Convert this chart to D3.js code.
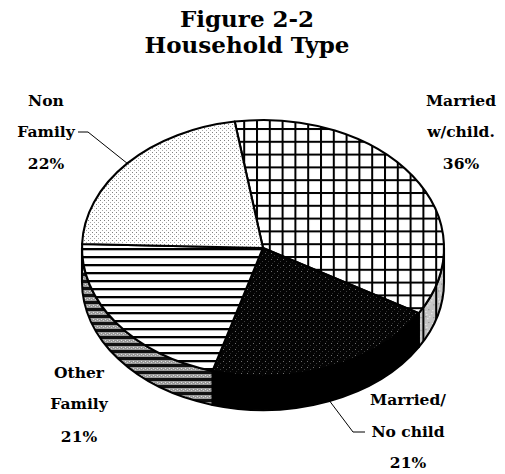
<!DOCTYPE html>
<html>
<head>
<meta charset="utf-8">
<script src="https://cdn.jsdelivr.net/npm/d3@7"></script>
<style>
  html, body { margin: 0; padding: 0; background: #fff; }
  svg { display: block; }
  text { font-family: "DejaVu Serif", "Liberation Serif", serif; font-weight: bold; fill: #000; }
</style>
</head>
<body>
<svg id="chart" width="505" height="474"></svg>
<script>
// Household type shares (percent), in drawing order clockwise from the top
const categories = ["Married w/child.", "Married/ No child", "Other Family", "Non Family"];
const shares = [36, 21, 21, 22];
// Label text lines for each slice (the percentage is appended from shares)
const labelNames = [["Married", "w/child."], ["Married/", "No child"], ["Other", "Family"], ["Non", "Family"]];
const titleLines = ["Figure 2-2", "Household Type"];

const svg = d3.select("#chart");
const defs = svg.append("defs");

// ---- fill patterns ----
function pattern(id, w, h, build) {
  const p = defs.append("pattern").attr("id", id)
    .attr("patternUnits", "userSpaceOnUse").attr("width", w).attr("height", h);
  build(p);
}
const px = (p, x, y, c, w = 1, h = 1) =>
  p.append("rect").attr("x", x).attr("y", y).attr("width", w).attr("height", h).attr("fill", c);

// square grid
pattern("grid", 12.8, 12.8, p => {
  px(p, 0, 0, "#fff", 12.8, 12.8);
  px(p, 0, 0, "#000", 12.8, 2);
  px(p, 0, 0, "#000", 2, 12.8);
});
// grid over grey stipple (side wall)
pattern("gridSide", 12.8, 12.8, p => {
  px(p, 0, 0, "#c4c4c4", 12.8, 12.8);
  [[3,4],[7,9],[10,3],[5,11],[9,6],[4,7]].forEach(([x, y]) => px(p, x, y, "#fff"));
  [[6,2],[11,10],[3,9]].forEach(([x, y]) => px(p, x, y, "#777"));
  px(p, 0, 0, "#000", 2, 12.8);
});
// dense dark stipple
pattern("dark", 6, 6, p => {
  px(p, 0, 0, "#040404", 6, 6);
  px(p, 1, 1, "#6e6e6e");
  px(p, 4, 3, "#3c3c3c");
  px(p, 2, 5, "#2a2a2a");
});
// horizontal stripes
pattern("hlines", 8, 8, p => {
  px(p, 0, 0, "#fff", 8, 8);
  px(p, 0, 0, "#000", 8, 2.3);
});
// horizontal stripes over grey stipple (side wall)
pattern("hlinesSide", 4, 7, p => {
  px(p, 0, 0, "#9a9a9a", 4, 7);
  px(p, 1, 4, "#e0e0e0");
  px(p, 3, 5, "#d0d0d0");
  px(p, 0, 0, "#111", 4, 3);
});
// light stipple
pattern("light", 4, 4, p => {
  px(p, 0, 0, "#fff", 4, 4);
  px(p, 0, 0, "#808080");
  px(p, 2, 2, "#aaaaaa");
});

const topFill = ["url(#grid)", "url(#dark)", "url(#hlines)", "url(#light)"];
const sideFill = ["url(#gridSide)", "#000", "url(#hlinesSide)", "#bbb"];

// ---- tilted pie geometry ----
const cx = 263, cy = 248, rx = 181, ry = 128, depth = 34;
const rad = d => d * Math.PI / 180;
const arcs = d3.pie().sort(null)
  .startAngle(rad(-9)).endAngle(rad(351))(shares);

// point on the ellipse rim, angle clockwise from 12 o'clock
const pt = (a, dy = 0) => [cx + rx * Math.sin(a), cy - ry * Math.cos(a) + dy];

function topPath(d) {
  const s = pt(d.startAngle), e = pt(d.endAngle);
  const large = d.endAngle - d.startAngle > Math.PI ? 1 : 0;
  return `M${cx},${cy}L${s[0]},${s[1]}A${rx},${ry} 0 ${large} 1 ${e[0]},${e[1]}Z`;
}
function sidePath(a, b) {
  const s = pt(a), e = pt(b), s2 = pt(a, depth), e2 = pt(b, depth);
  return `M${s[0]},${s[1]}A${rx},${ry} 0 0 1 ${e[0]},${e[1]}` +
         `L${e2[0]},${e2[1]}A${rx},${ry} 0 0 0 ${s2[0]},${s2[1]}Z`;
}

const pie = svg.append("g");
// side walls: only the front half (90°..270°) is visible
arcs.forEach((d, i) => {
  const a = Math.max(d.startAngle, Math.PI / 2), b = Math.min(d.endAngle, 3 * Math.PI / 2);
  if (b > a) {
    pie.append("path").attr("d", sidePath(a, b))
      .attr("fill", sideFill[i]).attr("stroke", "#000")
      .attr("stroke-width", 2.1).attr("stroke-linejoin", "round");
  }
});
// top faces
pie.selectAll("path.top").data(arcs).join("path")
  .attr("class", "top")
  .attr("d", topPath)
  .attr("fill", (d, i) => topFill[i])
  .attr("stroke", "#000").attr("stroke-width", 2.1).attr("stroke-linejoin", "round");

// ---- title ----
svg.append("g").selectAll("text").data(titleLines).join("text")
  .attr("x", 247).attr("y", (d, i) => 27 + i * 26)
  .attr("text-anchor", "middle").attr("font-size", 23)
  .text(d => d);

// ---- slice labels ----
const labelPos = [
  { x: 461, y: [106, 137, 169] },
  { x: 408, y: [405, 437, 468] },
  { x: 79,  y: [378, 409, 442] },
  { x: 46,  y: [106, 137, 169] }
];
const labels = svg.append("g");
arcs.forEach((d, i) => {
  const lines = labelNames[i].concat([shares[i] + "%"]);
  lines.forEach((t, k) => {
    labels.append("text")
      .attr("x", labelPos[i].x).attr("y", labelPos[i].y[k])
      .attr("text-anchor", "middle").attr("font-size", 15.5)
      .text(t);
  });
});

// leader lines from the slice rim to its label
const mid = d => (d.startAngle + d.endAngle) / 2;
const nf = arcs[3], mnc = arcs[1];
const pNF = pt(mid(nf));
const pMNC = pt(mid(mnc), depth);
const leaders = [
  [pNF, [88, 132], [78, 132]],
  [pMNC, [353, 432], [365, 432]]
];
svg.append("g").selectAll("path").data(leaders).join("path")
  .attr("d", d => d3.line()(d))
  .attr("fill", "none").attr("stroke", "#000").attr("stroke-width", 1);
</script>
</body>
</html>
